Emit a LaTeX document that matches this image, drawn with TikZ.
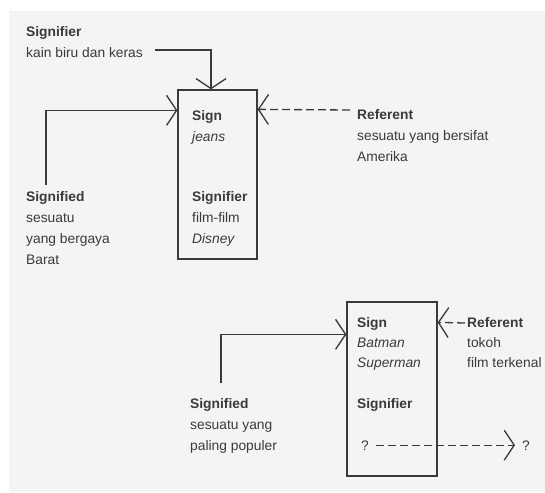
\documentclass[tikz,border=0pt]{standalone}
\usepackage{fontspec}
\setmainfont{Liberation Sans}
\usetikzlibrary{arrows.meta}
\definecolor{ink}{HTML}{3A3A3A}
\definecolor{paper}{HTML}{F4F4F4}
\tikzset{
	lbl/.style={anchor=base west,inner sep=0pt,align=left,text=ink,font=\fontsize{13.8}{21}\selectfont},
	sbox/.style={draw=ink,line width=1.3pt,inner sep=0pt},
	conn/.style={draw=ink,line width=1.3pt,-{Straight Barb[length=10pt,width=30pt]}},
	dsh/.style={dash pattern=on 8pt off 4pt}
}
\begin{document}
\begin{tikzpicture}[x=1pt,y=-1pt]
		\fill[white] (0,0) rectangle (545,492);
		\fill[paper] (9,11) rectangle (545,492);
		\useasboundingbox (0,0) rectangle (545,492);
		% jeans (labels sit on the baseline of their last line)
		\node[sbox,minimum width=79pt,minimum height=169pt] (jeans) at (217.5,174.5) {};
		\node[lbl] (jeanssign) at (192,141) {\textbf{Sign}\\\textit{jeans}};
		\node[lbl] (jeanssfr) at (192,243) {\textbf{Signifier}\\film-film\\\textit{Disney}};
		\node[lbl] (sfrtop) at (26,58) {\textbf{Signifier}\\kain biru dan keras};
		\node[lbl] (sfdleft) at (26,264) {\textbf{Signified}\\sesuatu\\yang bergaya\\Barat};
		\node[lbl] (refright) at (357,161) {\textbf{Referent}\\sesuatu yang bersifat\\Amerika};
		\coordinate (sfrA) at (155,50);
		\coordinate (sfdA) at (46,185);
		\coordinate (refA) at (350,110);
		\draw[conn] (sfrA) -| ([xshift=-6.5pt]jeans.north);
		\draw[conn] (sfdA) |- ([yshift=-21pt]jeans.north west);
		\draw[conn,dsh] (refA) -- ([yshift=-20pt]jeans.north east);
		% batman
		\node[sbox,minimum width=90pt,minimum height=174pt] (hero) at (392,389) {};
		\node[lbl,font=\fontsize{13.8}{20}\selectfont] (herosign) at (357,367) {\textbf{Sign}\\\textit{Batman}\\\textit{Superman}};
		\node[lbl] (herosfr) at (357,408) {\textbf{Signifier}};
		\node[lbl] (q1) at (361,450) {?};
		\node[lbl] (q2) at (522,450) {?};
		\node[lbl,font=\fontsize{13.8}{20}\selectfont] (refhero) at (467,367) {\textbf{Referent}\\tokoh\\film terkenal};
		\node[lbl] (sfdhero) at (190,450) {\textbf{Signified}\\sesuatu yang\\paling populer};
		\coordinate (sfdB) at (221,383);
		\coordinate (refB) at (465,323);
		\draw[conn] (sfdB) |- ([yshift=-33pt]hero.north west);
		\draw[conn,dsh] (refB) -- ([yshift=-21pt]hero.north east);
		\draw[conn,dsh] ([xshift=7pt]q1.east) -- ([xshift=-7pt]q2.west);
	\end{tikzpicture}
\end{document}
